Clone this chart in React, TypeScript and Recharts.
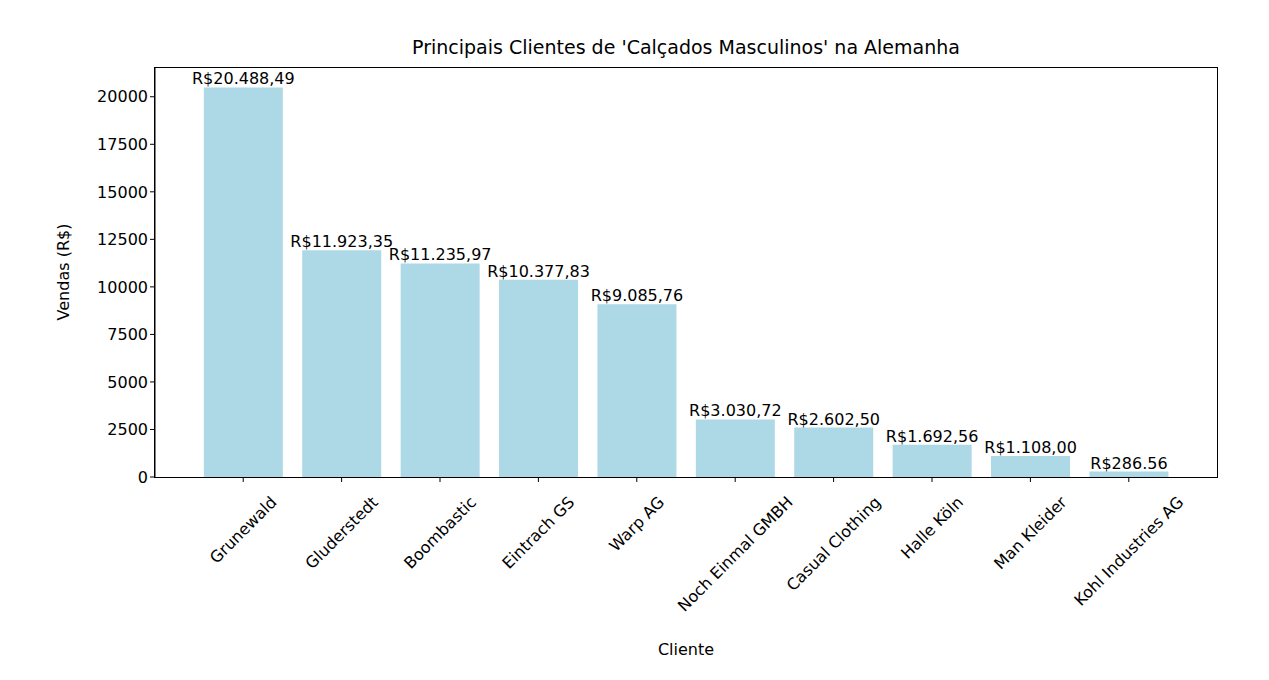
import React from "react";
import { BarChart, Bar, XAxis, YAxis, LabelList } from "recharts";

const clientes = ["Grunewald", "Gluderstedt", "Boombastic", "Eintrach GS", "Warp AG", "Noch Einmal GMBH", "Casual Clothing", "Halle Köln", "Man Kleider", "Kohl Industries AG"];
const vendas = [20488.49, 11923.35, 11235.97, 10377.83, 9085.76, 3030.72, 2602.5, 1692.56, 1108.0, 286.56];
const rotulos = ["R$20.488,49", "R$11.923,35", "R$11.235,97", "R$10.377,83", "R$9.085,76", "R$3.030,72", "R$2.602,50", "R$1.692,56", "R$1.108,00", "R$286.56"];
const yTicks = [0, 2500, 5000, 7500, 10000, 12500, 15000, 17500, 20000];

const data = clientes.map((c, i) => ({ cliente: c, vendas: vendas[i], rotulo: rotulos[i] }));

if (typeof document !== "undefined") document.body.style.margin = "0";

const FONT = "DejaVu Sans, sans-serif";
let ctx: CanvasRenderingContext2D | null = null;
function measure(t: string) {
  if (!ctx) ctx = document.createElement("canvas").getContext("2d");
  if (!ctx) return t.length * 9.6;
  ctx.font = "16px 'DejaVu Sans'";
  return ctx.measureText(t).width;
}

const RotTick = (props: any) => {
  const { x, y, payload } = props;
  const w = measure(payload.value);
  const h = 18;
  const cy = y + 8 + ((w + h) * 0.7071) / 2;
  return (
    <g>
      <line x1={x} x2={x} y1={y - 8} y2={y - 3} stroke="#000" />
      <text x={x} y={cy} textAnchor="middle" dominantBaseline="central" fontSize={16} fontFamily={FONT} fill="#000" transform={`rotate(-45 ${x} ${cy})`}>
        {payload.value}
      </text>
    </g>
  );
};

export default function App() {
  return (
    <div style={{ position: "relative", width: 1269, height: 680, background: "#fff", fontFamily: FONT }}>
      <BarChart width={1269} height={680} data={data} margin={{ top: 68, right: 52, bottom: 202, left: 0 }} barCategoryGap="10%">
        <XAxis dataKey="cliente" interval={0} tickLine={false} axisLine={false} padding={{ left: 39, right: 39 }} tick={<RotTick />} height={1} />
        <YAxis domain={[0, 21513]} ticks={yTicks} width={155} stroke="#000" tickSize={5} tick={{ fill: "#000", fontSize: 16, fontFamily: FONT }} />
        <Bar dataKey="vendas" fill="#add8e6" isAnimationActive={false}>
          <LabelList dataKey="rotulo" position="top" offset={3} fill="#000" fontSize={16} fontFamily={FONT} />
        </Bar>
      </BarChart>
      <div style={{ position: "absolute", left: 154, top: 67, width: 1062, height: 409, border: "1px solid #000", pointerEvents: "none" }} />
      <div style={{ position: "absolute", left: 155, width: 1062, top: 36, textAlign: "center", fontSize: 19, color: "#000" }}>
        Principais Clientes de 'Calçados Masculinos' na Alemanha
      </div>
      <div style={{ position: "absolute", left: 155, width: 1062, top: 640, textAlign: "center", fontSize: 16, color: "#000" }}>Cliente</div>
      <div style={{ position: "absolute", left: 63, top: 272, transform: "translate(-50%,-50%) rotate(-90deg)", fontSize: 16, whiteSpace: "nowrap", color: "#000" }}>
        Vendas (R$)
      </div>
    </div>
  );
}
